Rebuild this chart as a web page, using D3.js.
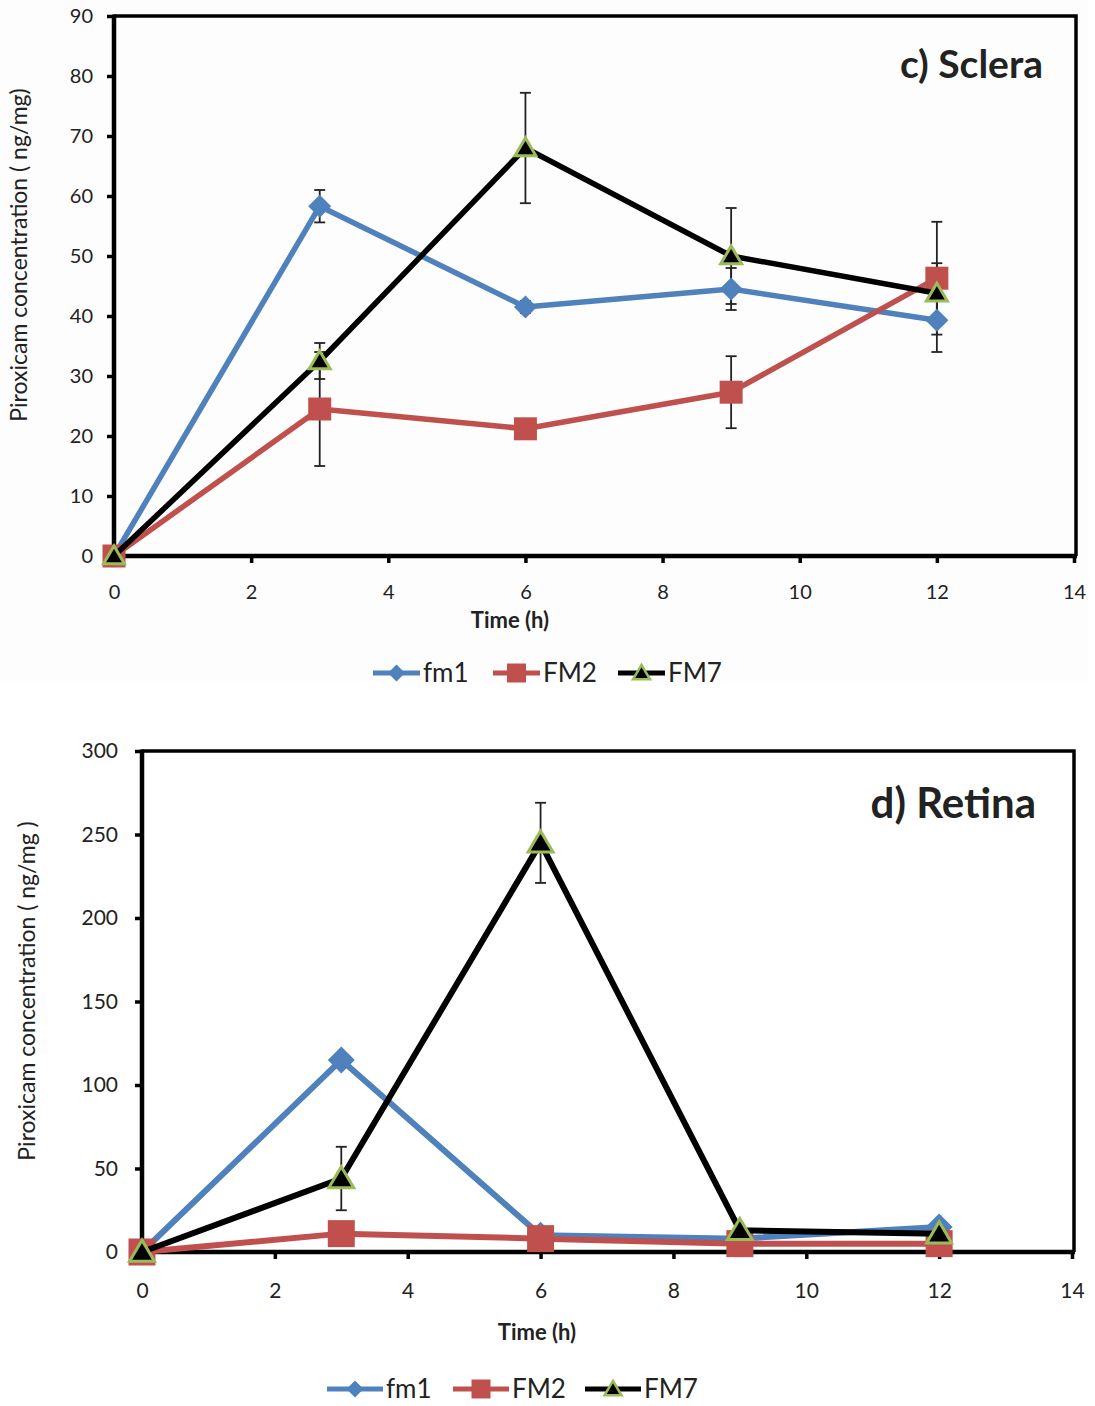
<!DOCTYPE html>
<html>
<head>
<meta charset="utf-8">
<script src="https://cdn.jsdelivr.net/npm/d3@7"></script>
<style>
  body { margin: 0; background: #fff; }
  svg { display: block; }
  text { font-family: Lato, "Open Sans", sans-serif; fill: #222; }
</style>
</head>
<body>
<svg id="chart" width="1095" height="1406"></svg>
<script>
// time points (h)
var times = [0, 3, 6, 9, 12];
var seriesNames = ["fm1", "FM2", "FM7"];

// c) Sclera
var scleraFm1 = [0, 58.3, 41.5, 44.5, 39.3];
var scleraFm1Err = [0, 2.7, 1.0, 3.5, 5.3];
var scleraFm2 = [0, 24.5, 21.2, 27.3, 46.3];
var scleraFm2Err = [0, 9.5, 0.8, 6.0, 9.4];
var scleraFm7 = [0, 32.5, 68.0, 50.0, 43.8];
var scleraFm7Err = [0, 3.0, 9.2, 8.0, 5.0];
var scleraYTicks = [0, 10, 20, 30, 40, 50, 60, 70, 80, 90];

// d) Retina
var retinaFm1 = [0, 115, 10, 8, 15];
var retinaFm1Err = [0, 0, 0, 0, 0];
var retinaFm2 = [0, 11, 8, 5, 5];
var retinaFm2Err = [0, 0, 0, 0, 0];
var retinaFm7 = [0, 44, 245, 13, 11];
var retinaFm7Err = [0, 19, 24, 0, 0];
var retinaYTicks = [0, 50, 100, 150, 200, 250, 300];

var xTicks = [0, 2, 4, 6, 8, 10, 12, 14];

var blue = "#4f81bd", red = "#c0504d", green = "#9bbb59";

var svg = d3.select("#chart");

// faint panel background of the upper figure
svg.append("rect").attr("x", 0).attr("y", 0).attr("width", 1088).attr("height", 682).attr("fill", "#fdfdfd");

function drawPanel(p) {
	var x = d3.scaleLinear().domain([0, 14]).range([p.left, p.right]);
	var y = d3.scaleLinear().domain([0, p.yMax]).range([p.bottom, p.top]);
	var g = svg.append("g");

	// frame (top and right)
	g.append("path")
		.attr("d", "M" + p.left + "," + p.top + "H" + (p.right + 2) + "V" + p.bottom)
		.attr("fill", "none").attr("stroke", "#000").attr("stroke-width", 3.5);

	var yAxis = g.append("g")
		.attr("transform", "translate(" + p.left + ",0)")
		.call(d3.axisLeft(y).tickValues(p.yTicks).tickSize(7).tickPadding(p.yPad));
	var xAxis = g.append("g")
		.attr("transform", "translate(0," + p.bottom + ")")
		.call(d3.axisBottom(x).tickValues(xTicks).tickSize(7).tickPadding(p.xPad));
	[yAxis, xAxis].forEach(function(a) {
		a.select(".domain").remove();
		a.selectAll("line").attr("stroke", "#000").attr("stroke-width", 3.5);
		a.selectAll("text").attr("font-size", p.tickFont).attr("fill", "#333")
			.attr("font-family", "Lato, 'Open Sans', sans-serif");
	});
	g.append("line").attr("x1", p.left).attr("x2", p.left).attr("y1", p.top - 1.5).attr("y2", p.bottom + 1.5)
		.attr("stroke", "#000").attr("stroke-width", 4.5);
	g.append("line").attr("x1", p.left - 1).attr("x2", p.right + 3).attr("y1", p.bottom).attr("y2", p.bottom)
		.attr("stroke", "#000").attr("stroke-width", 4.5);

	// axis titles
	g.append("text")
		.attr("x", p.xTitleX).attr("y", p.xTitleY)
		.attr("text-anchor", "middle").attr("font-size", 22).attr("font-weight", "bold")
		.text("Time (h)");
	g.append("text")
		.attr("transform", "translate(" + p.yTitleX + "," + p.yTitleCY + ") rotate(-90)")
		.attr("text-anchor", "middle").attr("font-size", 23)
		.text(p.yTitle);

	// panel label
	g.append("text")
		.attr("x", p.labelX).attr("y", p.labelY)
		.attr("text-anchor", "end").attr("font-size", p.labelFont).attr("font-weight", "bold")
		.attr("fill", "#111")
		.text(p.label);

	var series = [
		{ name: seriesNames[0], vals: p.fm1, err: p.fm1Err, color: blue, marker: "diamond" },
		{ name: seriesNames[1], vals: p.fm2, err: p.fm2Err, color: red, marker: "square" },
		{ name: seriesNames[2], vals: p.fm7, err: p.fm7Err, color: "#000", marker: "triangle" }
	];

	// error bars
	series.forEach(function(s) {
		times.forEach(function(t, i) {
			var e = s.err[i];
			if (!e) return;
			var cx = x(t), y1 = y(s.vals[i] + e), y2 = y(s.vals[i] - e);
			g.append("line").attr("x1", cx).attr("x2", cx).attr("y1", y1).attr("y2", y2)
				.attr("stroke", "#222").attr("stroke-width", 1.8);
			[y1, y2].forEach(function(yy) {
				g.append("line").attr("x1", cx - 5.5).attr("x2", cx + 5.5).attr("y1", yy).attr("y2", yy)
					.attr("stroke", "#222").attr("stroke-width", 1.8);
			});
		});
	});

	var line = d3.line().x(function(d) { return x(d[0]); }).y(function(d) { return y(d[1]); });

	series.forEach(function(s) {
		var pts = times.map(function(t, i) { return [t, s.vals[i]]; });
		g.append("path").datum(pts).attr("d", line)
			.attr("fill", "none").attr("stroke", s.color).attr("stroke-width", p.lineW)
			.attr("stroke-linejoin", "round");
		g.selectAll(null).data(pts).enter().append("path")
			.attr("transform", function(d) { return "translate(" + x(d[0]) + "," + y(d[1]) + ")"; })
			.attr("d", markerPath(s.marker, s.marker == "triangle" ? p.mk - 2 : p.mk))
			.attr("fill", s.color)
			.attr("stroke", s.marker == "triangle" ? green : "none")
			.attr("stroke-width", 3);
	});

	// legend
	var leg = g.append("g");
	series.forEach(function(s, i) {
		var lx = p.legX[i];
		leg.append("line").attr("x1", lx).attr("x2", lx + p.legLen).attr("y1", p.legY).attr("y2", p.legY)
			.attr("stroke", s.color).attr("stroke-width", 5);
		leg.append("path")
			.attr("transform", "translate(" + (lx + p.legLen / 2) + "," + p.legY + ")")
			.attr("d", markerPath(s.marker, s.marker == "square" ? 19 : 17))
			.attr("fill", s.color)
			.attr("stroke", s.marker == "triangle" ? green : "none").attr("stroke-width", 2.5);
		leg.append("text").attr("x", lx + p.legLen + 3).attr("y", p.legY + 9)
			.attr("font-size", 26).attr("fill", "#111").text(s.name);
	});
}

function markerPath(type, size) {
	var h = size / 2;
	if (type == "diamond") return "M0," + (-h) + "L" + h + ",0L0," + h + "L" + (-h) + ",0Z";
	if (type == "square") return "M" + (-h) + "," + (-h) + "h" + size + "v" + size + "h" + (-size) + "Z";
	var r = h * 0.95;
	return "M0," + (-r) + "L" + (r * 1.05) + "," + (r * 0.78) + "L" + (-r * 1.05) + "," + (r * 0.78) + "Z";
}

drawPanel({
	left: 114, right: 1074, top: 16, bottom: 556, yMax: 90, yTicks: scleraYTicks,
	tickFont: 20, yPad: 14, xPad: 22, lineW: 5.5, mk: 23,
	xTitleX: 510, xTitleY: 628, yTitleX: 27, yTitleCY: 255,
	yTitle: "Piroxicam concentration ( ng/mg)",
	label: "c) Sclera", labelX: 1043, labelY: 78, labelFont: 39,
	fm1: scleraFm1, fm1Err: scleraFm1Err, fm2: scleraFm2, fm2Err: scleraFm2Err,
	fm7: scleraFm7, fm7Err: scleraFm7Err,
	legX: [373, 493, 618], legLen: 47, legY: 673
});

drawPanel({
	left: 142, right: 1072, top: 751, bottom: 1252, yMax: 300, yTicks: retinaYTicks,
	tickFont: 21, yPad: 17, xPad: 24, lineW: 6, mk: 27,
	xTitleX: 537, xTitleY: 1340, yTitleX: 35, yTitleCY: 991,
	yTitle: "Piroxicam concentration ( ng/mg )",
	label: "d) Retina", labelX: 1036, labelY: 818, labelFont: 42,
	fm1: retinaFm1, fm1Err: retinaFm1Err, fm2: retinaFm2, fm2Err: retinaFm2Err,
	fm7: retinaFm7, fm7Err: retinaFm7Err,
	legX: [327, 453, 585], legLen: 56, legY: 1389
});
</script>
</body>
</html>
